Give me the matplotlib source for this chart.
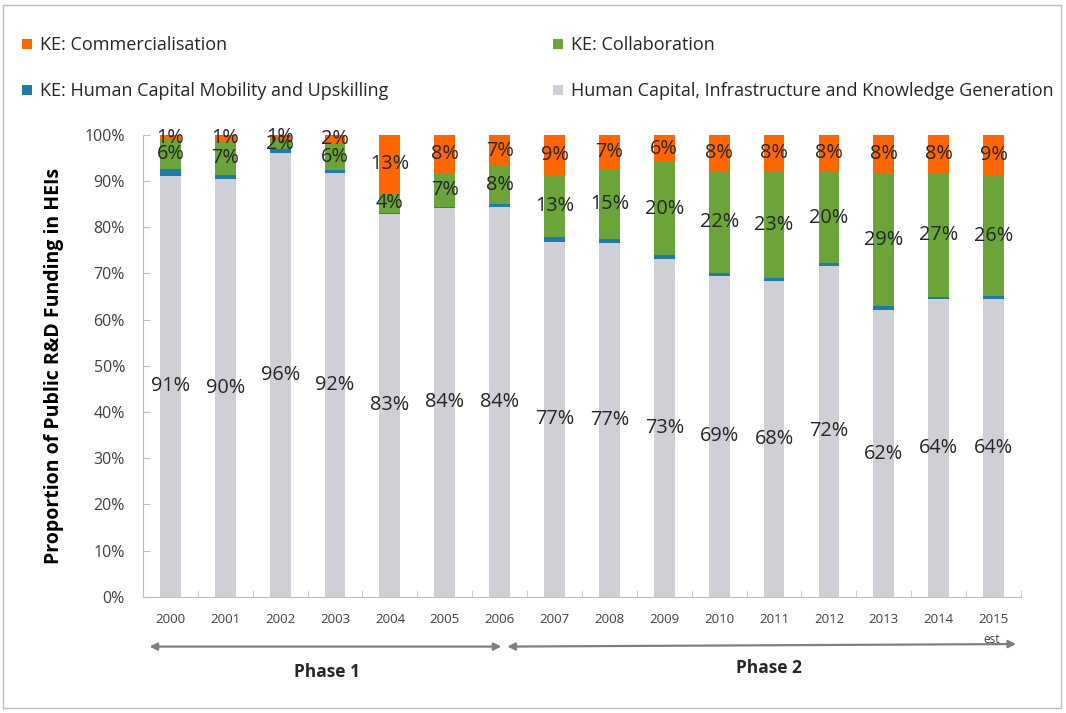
import numpy as np
import matplotlib
matplotlib.use("Agg")
import matplotlib.pyplot as plt
from matplotlib.patches import Rectangle
import matplotlib.transforms as mtrans

plt.rcParams['font.family'] = ['Open Sans', 'DejaVu Sans']

years = ['2000', '2001', '2002', '2003', '2004', '2005', '2006', '2007',
         '2008', '2009', '2010', '2011', '2012', '2013', '2014', '2015']
# shares in %
hc = [91.2, 90.4, 96.2, 91.8, 82.9, 84.2, 84.3, 76.9, 76.6, 73.2, 69.4, 68.4, 71.6, 62.0, 64.4, 64.4]
mob = [1.5, 0.9, 0.8, 0.6, 0.2, 0.3, 0.8, 1.1, 0.8, 0.7, 0.7, 0.7, 0.6, 1.0, 0.6, 0.8]
collab = [6.2, 7.4, 2.0, 5.8, 4.3, 7.3, 8.1, 13.3, 15.3, 20.2, 21.9, 22.9, 19.8, 28.7, 26.7, 26.0]
comm = [1.1, 1.3, 1.0, 1.8, 12.6, 8.2, 6.8, 8.7, 7.3, 5.9, 8.0, 8.0, 8.0, 8.3, 8.3, 8.8]

names = ['Human Capital, Infrastructure and Knowledge Generation',
         'KE: Human Capital Mobility and Upskilling',
         'KE: Collaboration',
         'KE: Commercialisation']
colors = ['#D0CFD5', '#1F7AAE', '#6BA539', '#FF6600']
labelled = [True, False, True, True]

fig = plt.figure(figsize=(10.66, 7.13), dpi=100)
ax = fig.add_axes([0.1341, 0.1631, 0.8237, 0.6476])

x = np.arange(len(years))
bottom = np.zeros(len(years))
bars = []
for vals, name, col, lab in zip([hc, mob, collab, comm], names, colors, labelled):
    vals = np.array(vals)
    b = ax.bar(x, vals, width=0.38, bottom=bottom, color=col, label=name, zorder=2)
    bars.append(b)
    if lab:
        for xi, v, b0 in zip(x, vals, bottom):
            ax.text(xi, b0 + v / 2, f"{round(v)}%", ha='center', va='center',
                    fontsize=14.3, color='#262626', zorder=3)
    bottom += vals

ax.set_xlim(-0.5, len(years) - 0.5)
ax.set_ylim(0, 100)
ax.set_yticks(np.arange(0, 101, 10))
ax.set_yticklabels([f"{v}%" for v in range(0, 101, 10)])
ax.set_xticks(x)
ax.set_xticklabels(years)
ax.set_xticks(np.arange(-0.5, len(years)), minor=True)
ax.tick_params(axis='x', which='major', length=0, pad=12, labelsize=9.5, labelcolor='#404040')
ax.tick_params(axis='x', which='minor', length=5, direction='in', color='#BFBFBF')
ax.tick_params(axis='y', length=5, direction='in', color='#BFBFBF', pad=13,
               labelsize=11.5, labelcolor='#404040')
for s in ['top', 'right']:
    ax.spines[s].set_visible(False)
for s in ['left', 'bottom']:
    ax.spines[s].set_color('#BFBFBF')

ax.set_ylabel('Proportion of Public R&D Funding in HEIs', fontsize=14,
              fontweight='bold', color='#000000', labelpad=15)

# phase arrows below the axis
tr = mtrans.blended_transform_factory(ax.transData, ax.transAxes)
arrow = dict(arrowstyle='<|-|>', color='#7F7F7F', lw=1.6, mutation_scale=11,
             shrinkA=0, shrinkB=0)
ax.annotate('', xy=(6.03, -0.108), xytext=(-0.38, -0.108), xycoords=tr,
            textcoords=tr, arrowprops=arrow, annotation_clip=False)
ax.annotate('', xy=(15.41, -0.1025), xytext=(6.14, -0.108), xycoords=tr,
            textcoords=tr, arrowprops=arrow, annotation_clip=False)
ax.text(2.86, -0.163, 'Phase 1', transform=tr, ha='center', va='center',
        fontsize=12.5, fontweight='bold', color='#262626')
ax.text(10.91, -0.155, 'Phase 2', transform=tr, ha='center', va='center',
        fontsize=12.5, fontweight='bold', color='#262626')
ax.text(14.97, -0.093, 'est', transform=tr, ha='center', va='center',
        fontsize=8.5, color='#404040')

# legend in two columns
leg_kw = dict(loc='upper left', frameon=False, fontsize=13, handlelength=0.55,
              handleheight=0.55, handletextpad=0.45, labelspacing=1.55,
              borderpad=0, borderaxespad=0, labelcolor='#262626')
fig.legend([bars[3], bars[1]], [names[3], names[1]],
           bbox_to_anchor=(0.0206, 0.949), **leg_kw)
fig.legend([bars[2], bars[0]], [names[2], names[0]],
           bbox_to_anchor=(0.519, 0.949), **leg_kw)

fig.patches.append(Rectangle((0.003, 0.007), 0.992, 0.986, transform=fig.transFigure,
                             fill=False, edgecolor='#BFBFBF', lw=1))

fig.savefig('out.png', dpi=100)
